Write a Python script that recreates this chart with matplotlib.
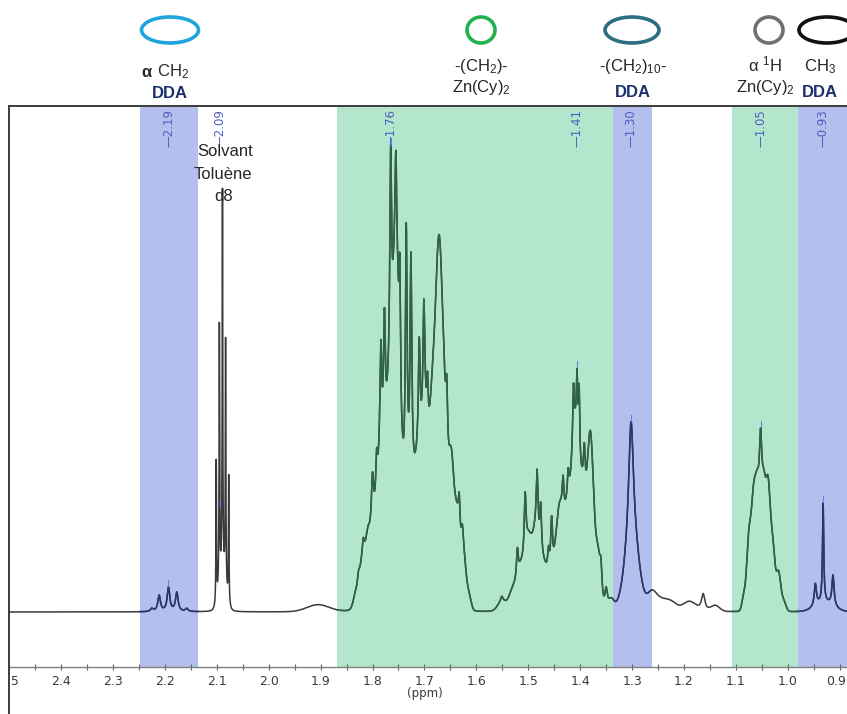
import numpy as np
import matplotlib
matplotlib.use("Agg")
import matplotlib.pyplot as plt
from matplotlib.patches import Ellipse, Rectangle
from matplotlib.lines import Line2D
import matplotlib.transforms as mtransforms

plt.rcParams['font.family'] = ['Liberation Sans', 'DejaVu Sans']
plt.rcParams['mathtext.fontset'] = 'custom'
plt.rcParams['mathtext.rm'] = 'Liberation Sans'
plt.rcParams['mathtext.it'] = 'Liberation Sans:italic'
plt.rcParams['mathtext.bf'] = 'Liberation Sans:bold'

# ---------------- spectrum data ----------------
# narrow (Lorentzian) lines: position (ppm), full width (ppm), height (intensity units)
lor_ppm = [2.225, 2.211, 2.193, 2.177, 2.158,
           2.101, 2.095, 2.089, 2.083, 2.077,
           1.834, 1.827, 1.818, 1.809, 1.800, 1.792, 1.784, 1.777, 1.765, 1.755,
           1.7475, 1.735, 1.726, 1.710, 1.701, 1.694, 1.657, 1.641, 1.633, 1.627,
           1.551, 1.521, 1.506, 1.483, 1.476, 1.461, 1.455, 1.433, 1.423,
           1.413, 1.406, 1.402, 1.392, 1.360, 1.350,
           1.302, 1.163, 1.0525, 0.947, 0.932, 0.913]
lor_width = [0.006, 0.006, 0.006, 0.006, 0.006,
             0.0012, 0.0012, 0.0012, 0.0012, 0.0012,
             0.006, 0.005, 0.006, 0.005, 0.005, 0.004, 0.004, 0.004, 0.004, 0.004,
             0.003, 0.004, 0.004, 0.004, 0.004, 0.003, 0.004, 0.004, 0.004, 0.005,
             0.005, 0.004, 0.004, 0.004, 0.004, 0.004, 0.004, 0.004, 0.004,
             0.003, 0.003, 0.003, 0.004, 0.005, 0.006,
             0.011, 0.008, 0.006, 0.005, 0.0028, 0.005]
lor_height = [3, 16, 24, 19, 3,
              142, 258, 378, 243, 127,
              3, 10, 24, 4, 51, 41, 101, 116, 211, 102,
              113, 263, 220, 107, 111, 43, 60, 1, 37, 23,
              5, 28, 58, 61, 48, 21, 49, 35, 27,
              51, 61, 71, 42, 25, 20,
              123, 17, 92, 22, 99, 31]
# broad (Gaussian) components
gau_ppm = [2.089, 1.905,
           1.832, 1.822, 1.810, 1.797, 1.783, 1.769, 1.755, 1.741, 1.727, 1.713,
           1.699, 1.685, 1.672, 1.660, 1.648, 1.637, 1.625, 1.614,
           1.550, 1.530, 1.515, 1.500, 1.485, 1.470, 1.455, 1.440, 1.425, 1.410,
           1.395, 1.380, 1.366, 1.340,
           1.30, 1.262, 1.245, 1.225, 1.19, 1.14,
           1.085, 1.075, 1.066, 1.058, 1.047, 1.038, 1.029, 1.018, 1.008, 0.93]
gau_width = [0.015, 0.05,
             0.012, 0.012, 0.014, 0.016, 0.016, 0.016, 0.016, 0.016, 0.016, 0.016,
             0.016, 0.014, 0.016, 0.014, 0.012, 0.012, 0.012, 0.010,
             0.02, 0.016, 0.016, 0.016, 0.016, 0.016, 0.016, 0.016, 0.016, 0.016,
             0.016, 0.014, 0.012, 0.012,
             0.03, 0.02, 0.025, 0.025, 0.03, 0.02,
             0.008, 0.010, 0.010, 0.010, 0.010, 0.010, 0.010, 0.010, 0.010, 0.04]
gau_height = [40, 7,
              12, 30, 58, 68, 131, 160, 312, 84, 98, 117,
              170, 162, 342, 133, 133, 83, 52, 13,
              10, 20, 38, 65, 71, 38, 32, 94, 86, 165,
              107, 167, 51, 9,
              68, 16, 10, 9, 10, 6,
              14, 71, 99, 102, 108, 114, 61, 38, 10, 9]

# shaded assignment bands (ppm from, ppm to)
blue_bands = [(2.248, 2.136), (1.3358, 1.262), (0.9813, 0.886)]
green_bands = [(1.8676, 1.3358), (1.1077, 0.9813)]

# picked peak labels
peak_labels = ['2.19', '2.09', '1.76', '1.41', '1.30', '1.05', '0.93']
peak_ppm = [2.193, 2.094, 1.765, 1.406, 1.302, 1.0525, 0.932]

tick_values = [2.5, 2.4, 2.3, 2.2, 2.1, 2.0, 1.9, 1.8, 1.7, 1.6, 1.5, 1.4, 1.3, 1.2, 1.1, 1.0, 0.9]
tick_labels = ['2.5', '2.4', '2.3', '2.2', '2.1', '2.0', '1.9', '1.8', '1.7', '1.6', '1.5',
               '1.4', '1.3', '1.2', '1.1', '1.0', '0.9']
minor_values = [2.45, 2.35, 2.25, 2.15, 2.05, 1.95, 1.85, 1.75, 1.65, 1.55, 1.45, 1.35,
                1.25, 1.15, 1.05, 0.95]

# ---------------- build the trace ----------------
x = np.linspace(2.5, 0.886, 16141)
y = np.zeros_like(x)
for c, w, a in zip(lor_ppm, lor_width, lor_height):
    y += a / (1 + ((x - c) / (w / 2)) ** 2)
for c, w, a in zip(gau_ppm, gau_width, gau_height):
    y += a * np.exp(-4 * np.log(2) * ((x - c) / w) ** 2)

# ---------------- figure ----------------
fig = plt.figure(figsize=(8.47, 7.14), dpi=100)
L = 9.1 / 847; B = 1 - 667 / 714; T = 1 - 106 / 714
ax = fig.add_axes([L, B, 1 - L, T - B])
ax.set_xlim(2.5, 0.886); ax.set_ylim(-55, 506)

BLUE, GREEN = '#b3c0ee', '#b3e6cc'
BLUE_LINE, GREEN_LINE = '#2a3670', '#2f6247'
segs = [(a, b, BLUE, BLUE_LINE) for a, b in blue_bands] + [(a, b, GREEN, GREEN_LINE) for a, b in green_bands]
for x0, x1, fc, lc in segs:
    ax.axvspan(x1, x0, color=fc, lw=0, zorder=0)
ax.plot(x, y, color='#3a3a3a', lw=1.1, zorder=2)
for x0, x1, fc, lc in segs:
    m = (x <= x0) & (x >= x1)
    ax.plot(x[m], y[m], color=lc, lw=1.1, zorder=3)

ax.spines['right'].set_visible(False)
for s in ['top', 'left']:
    ax.spines[s].set_color('#3c3c3c'); ax.spines[s].set_linewidth(1.4)
ax.spines['bottom'].set_color('#808080'); ax.spines['bottom'].set_linewidth(1.0)
ax.set_yticks([])
ax.set_xticks(tick_values)
ax.set_xticklabels(tick_labels)
ax.set_xticks(minor_values, minor=True)
ax.tick_params(axis='x', which='both', direction='inout', length=5, width=0.8, color='#606060', pad=3)
for lb in ax.get_xticklabels():
    lb.set_family('DejaVu Sans'); lb.set_fontsize(9); lb.set_color('#3a3a3a')
last = ax.get_xticklabels()[-1]
last.set_transform(last.get_transform() + mtransforms.ScaledTranslation(-4 / 100, 0, fig.dpi_scale_trans))

fig.add_artist(Rectangle((0, 0), L, B, transform=fig.transFigure, color='white', zorder=10))
fig.add_artist(Line2D([L, L], [0, B], transform=fig.transFigure, color='#3c3c3c', lw=1.4, zorder=11))
fig.text(425 / 847, 1 - 693 / 714, '(ppm)', ha='center', va='center', family='DejaVu Sans',
         fontsize=8.5, color='#3a3a3a')

for s, p in zip(peak_labels, peak_ppm):
    ax.text(p, 465, '\u2014' + s, rotation=90, ha='center', va='bottom', fontsize=8.5,
            family='DejaVu Sans', color='#4b5fc0', zorder=4)
    yp = np.interp(p, x[::-1], y[::-1])
    ax.plot([p, p], [yp + 1, yp + 7], color='#6f80dd', lw=0.8, zorder=4)

# ---------------- annotations above the plot (pixel coordinates) ----------------
ov = fig.add_axes([0, 0, 1, 1], zorder=5)
ov.set_xlim(0, 847); ov.set_ylim(714, 0); ov.set_axis_off()
for cx, cy, w, hh, c in [(170, 30, 57, 26, '#1ea5dc'), (481, 30, 28, 26, '#21b24b'),
                         (632, 30, 54, 26, '#2b6f82'), (769, 30, 28, 26, '#707070'),
                         (827, 30, 56, 26, '#111111')]:
    ov.add_patch(Ellipse((cx, cy), w, hh, fill=False, ec=c, lw=2.6))
tc = '#262626'; navy = '#1c2f6e'; fs = 12
ov.text(146, 76.7, '\u03b1', ha='center', va='baseline', fontsize=fs, fontweight='bold', color=tc)
ov.text(157, 76.7, 'CH$_2$', ha='left', va='baseline', fontsize=fs, color=tc)
ov.text(170, 97.7, 'DDA', ha='center', va='baseline', fontsize=fs, fontweight='bold', color=navy)
ov.text(481, 71, '-(CH$_2$)-', ha='center', va='baseline', fontsize=fs, color=tc)
ov.text(481, 91.7, 'Zn(Cy)$_2$', ha='center', va='baseline', fontsize=fs, color=tc)
ov.text(633, 71, '-(CH$_2$)$_{10}$-', ha='center', va='baseline', fontsize=fs, color=tc)
ov.text(633, 96.7, 'DDA', ha='center', va='baseline', fontsize=fs, fontweight='bold', color=navy)
ov.text(765, 71.7, '\u03b1 $^1$H', ha='center', va='baseline', fontsize=fs, color=tc)
ov.text(765, 91.7, 'Zn(Cy)$_2$', ha='center', va='baseline', fontsize=fs, color=tc)
ov.text(820, 71.7, 'CH$_3$', ha='center', va='baseline', fontsize=fs, color=tc)
ov.text(820, 96.7, 'DDA', ha='center', va='baseline', fontsize=fs, fontweight='bold', color=navy)
ov.text(225, 156, 'Solvant', ha='center', va='baseline', fontsize=fs, color=tc)
ov.text(222.5, 179, 'Toluène', ha='center', va='baseline', fontsize=fs, color=tc)
ov.text(224, 201, 'd8', ha='center', va='baseline', fontsize=fs, color=tc)

fig.savefig('out.png', dpi=100)
